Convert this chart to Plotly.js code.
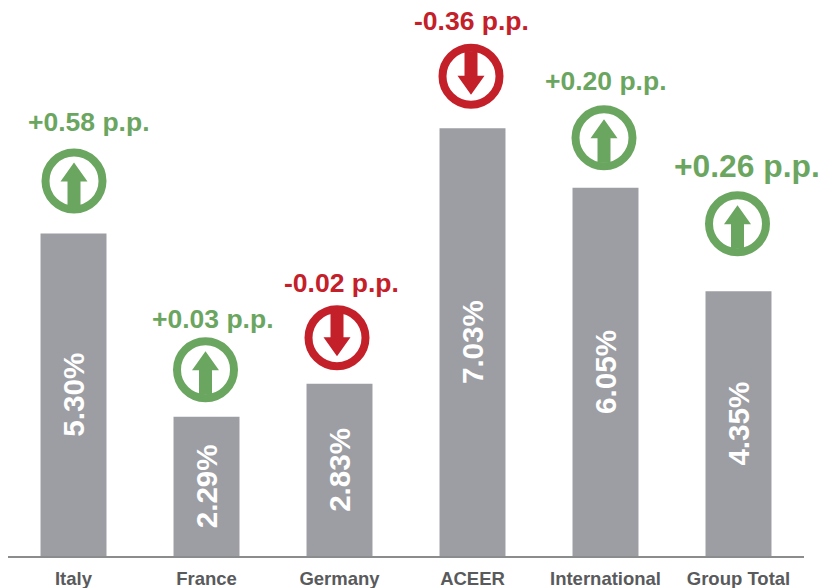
<!DOCTYPE html>
<html>
<head>
<meta charset="utf-8">
<script src="https://cdn.plot.ly/plotly-3.0.1.min.js"></script>
<style>html,body{margin:0;padding:0;background:#fff;}#chart{width:821px;height:588px;}</style>
</head>
<body>
<div id="chart"></div>
<script>
// Share per region and its change in percentage points
const categories = ["Italy", "France", "Germany", "ACEER", "International", "Group Total"];
const shareValues = [5.30, 2.29, 2.83, 7.03, 6.05, 4.35];
const deltaValues = [0.58, 0.03, -0.02, -0.36, 0.20, 0.26];

// Placement of the callouts above each bar, in pixels relative to the bar top centre
const iconOffsetX = [0.5, -1, -2.5, -1.5, -1.5, -1];
const iconOffsetY = [52.5, 47, 46, 52, 50, 67.5];
const labelOffsetX = [15.5, 6, 1.5, -1.5, 0.5, 8];
const labelOffsetY = [111.5, 98, 101, 107, 107, 125];
const labelSizes = [26.5, 26.5, 26.5, 26.5, 26.5, 31.8];

const GREEN = "#6ba661", RED = "#c4202a", BAR = "#9d9ea3";
const ringRadius = 28.5, ringWidth = 8;

const fmtDelta = d => (d >= 0 ? "+" : "-") + Math.abs(d).toFixed(2) + " p.p.";

// Ring and arrow, anchored to the bar top with pixel sizing
function iconShapes(cat, value, delta, dx, dy) {
  const colour = delta >= 0 ? GREEN : RED;
  const s = delta >= 0 ? 1 : -1;
  const anchored = {xref: "x", yref: "y", xsizemode: "pixel", ysizemode: "pixel",
                    xanchor: cat, yanchor: value, layer: "above"};
  const pt = (x, y) => (dx + x) + "," + (dy + s * y);
  const arrow = "M" + pt(0, 18.5) + " L" + pt(13.5, -0.5) + " L" + pt(6.5, -0.5) +
                " L" + pt(6.5, -25) + " L" + pt(-6.5, -25) + " L" + pt(-6.5, -0.5) +
                " L" + pt(-13.5, -0.5) + " Z";
  return [
    Object.assign({}, anchored, {type: "circle",
      x0: dx - ringRadius, x1: dx + ringRadius, y0: dy - ringRadius, y1: dy + ringRadius,
      fillcolor: "#ffffff", line: {color: colour, width: ringWidth}}),
    Object.assign({}, anchored, {type: "path", path: arrow,
      fillcolor: colour, line: {width: 0}})
  ];
}

const shapes = categories.flatMap((c, i) =>
  iconShapes(c, shareValues[i], deltaValues[i], iconOffsetX[i], iconOffsetY[i]));

const annotations = categories.map((c, i) => ({
  x: c, y: shareValues[i], xref: "x", yref: "y",
  xshift: labelOffsetX[i], yshift: labelOffsetY[i],
  text: "<b>" + fmtDelta(deltaValues[i]) + "</b>",
  showarrow: false, xanchor: "center", yanchor: "middle",
  font: {family: "Liberation Sans, Arial, sans-serif", size: labelSizes[i],
         color: deltaValues[i] >= 0 ? GREEN : RED}
}));

const trace = {
  type: "bar",
  x: categories,
  y: shareValues,
  marker: {color: BAR},
  text: shareValues.map(v => "<b>" + v.toFixed(2) + "%</b>"),
  textposition: "inside",
  insidetextanchor: "middle",
  textangle: -90,
  constraintext: "none",
  insidetextfont: {family: "Liberation Sans, Arial, sans-serif", size: 29.6, color: "#ffffff"},
  hoverinfo: "x+y",
  cliponaxis: false
};

const layout = {
  width: 821, height: 588,
  margin: {l: 8, r: 17, t: 0, b: 32, pad: 0},
  paper_bgcolor: "#ffffff", plot_bgcolor: "#ffffff",
  showlegend: false,
  bargap: 0.504,
  xaxis: {
    type: "category",
    range: [-0.4925, 5.4925],
    showgrid: false, zeroline: false,
    showline: true, linecolor: "#8a8c8e", linewidth: 2,
    ticks: "", ticklen: 0,
    ticklabelstandoff: 5,
    tickfont: {family: "Liberation Sans, Arial, sans-serif", size: 18.5, color: "#595a5c", weight: "bold"},
    automargin: false
  },
  yaxis: {
    range: [0, 556 / 60.85],
    visible: false, showgrid: false, zeroline: false, fixedrange: true
  },
  shapes: shapes,
  annotations: annotations
};

Plotly.newPlot("chart", [trace], layout, {displayModeBar: false, staticPlot: true});
</script>
</body>
</html>
